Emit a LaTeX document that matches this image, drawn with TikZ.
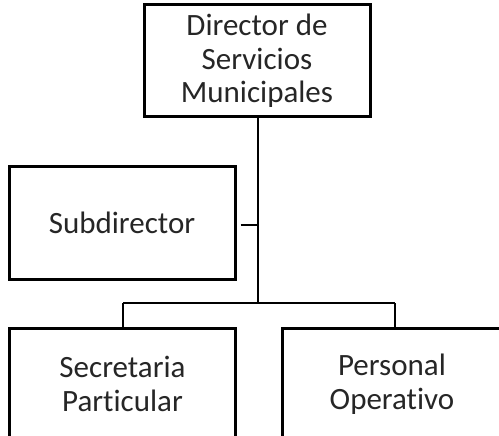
\documentclass[tikz,border=0pt]{standalone}
\usepackage{fontspec}
\setmainfont[Ligatures=NoCommon]{Carlito}
\begin{document}
\begin{tikzpicture}[x=1pt,y=-1pt,
  orgbox/.style={draw=black,line width=3pt,fill=white,minimum width=226pt,minimum height=112pt,inner sep=0pt,align=center,font=\fontsize{31}{33.5}\selectfont,text=black!85},
  trunkline/.style={draw=black,line width=2.8pt},
  thinline/.style={draw=black,line width=1.2pt}]
\useasboundingbox (0,0) rectangle (499,436);
\begin{scope}
\clip (0,0) rectangle (499,436);
\node[orgbox] (dir) at (257,61) {Director de\\Servicios\\Municipales};
\node[orgbox] (sub) at (122,223) {Subdirector};
\node[orgbox] (sec) at (122.5,384) {Secretaria\\Particular};
\node[orgbox,minimum width=220pt] (per) at (392,384) {Personal\\Operativo};
\coordinate (bm) at (258,303);
\coordinate (sj) at (258,225);
\coordinate (bl) at (123,303);
\coordinate (br) at (395,303);
\draw[trunkline] (dir.south -| bm) -- (bm);
\draw[thinline] ([xshift=4pt]sub.east |- sj) -- (sj);
\draw[draw=black,line width=1.5pt] (bl) -- (br);
\draw[thinline] (bl) -- (bl |- sec.north);
\draw[draw=black,line width=2pt] (br) -- (br |- per.north);
\end{scope}
\end{tikzpicture}
\end{document}
